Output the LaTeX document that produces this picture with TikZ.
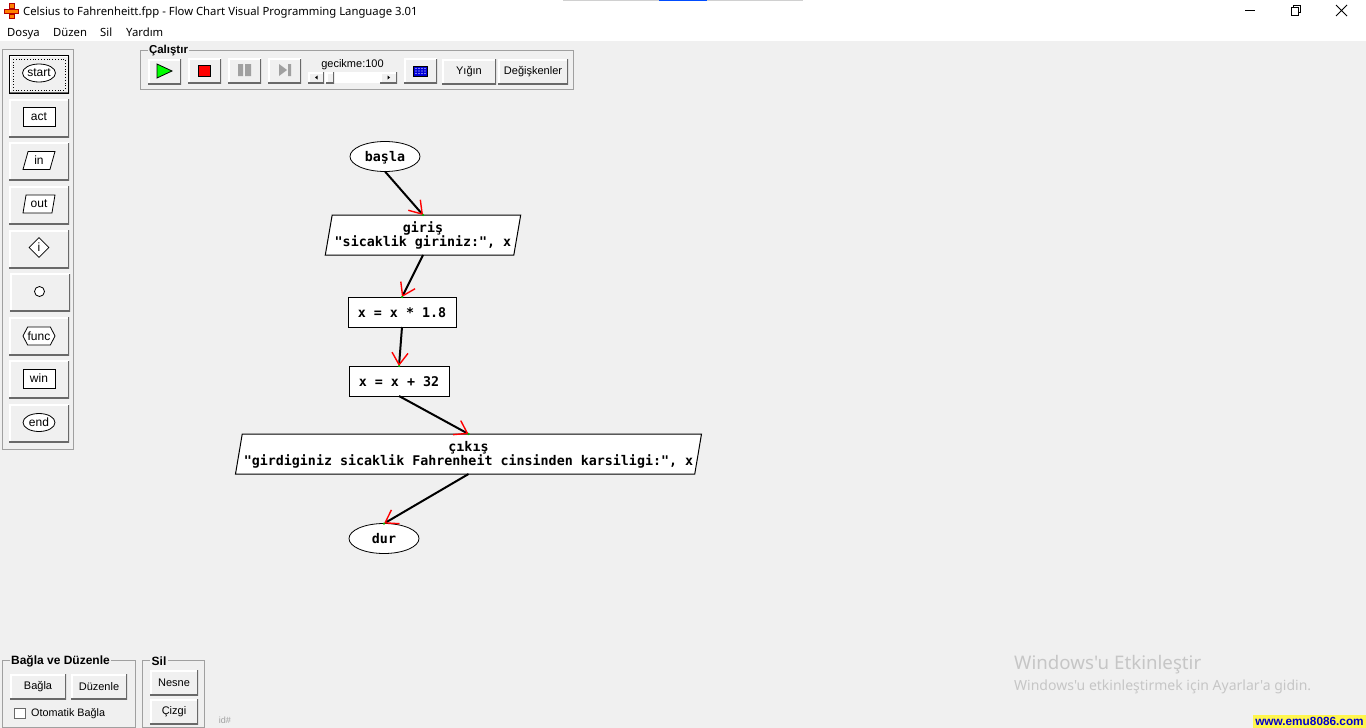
\documentclass[tikz,border=0pt]{standalone}
\usepackage{fontspec}
\setmainfont{Liberation Sans}
\newfontfamily\flowfont{DejaVu Sans Mono}
\newfontfamily\titlefont{Noto Sans}
\usetikzlibrary{arrows.meta,shapes.geometric,shapes.symbols,positioning}
\definecolor{panelgray}{HTML}{F0F0F0}
\definecolor{boxline}{HTML}{A0A0A0}
\definecolor{btnshade}{HTML}{696969}
\definecolor{marktext}{HTML}{C6C6C6}
\newcommand{\flowtop}{\rule{0pt}{12pt}}
\newcommand{\flowbot}{\rule[-3pt]{0pt}{3pt}}
\tikzset{
  uibtn/.style={rectangle,fill=panelgray,inner sep=0pt,outer sep=0pt,font=\fontsize{11}{14}\selectfont,
    path picture={
      \draw[white,line width=3pt] (path picture bounding box.south west) -- (path picture bounding box.north west) -- (path picture bounding box.north east);
      \draw[btnshade,line width=3pt] (path picture bounding box.south west) -- (path picture bounding box.south east) -- (path picture bounding box.north east);
    }},
  toolbtn/.style={uibtn,minimum width=60pt,minimum height=38pt},
  runbtn/.style={uibtn,minimum width=33pt,minimum height=25pt},
  icon/.style={draw,fill=white,inner sep=0pt,line width=.8pt,font=\fontsize{12}{14}\selectfont},
  iconpara/.style={icon,trapezium,trapezium left angle=76,trapezium right angle=104,trapezium stretches=true,minimum width=32pt,minimum height=18pt},
  menutext/.style={anchor=west,inner sep=0pt,text height=9pt,text depth=3pt,font=\titlefont\fontsize{11.3}{14}\selectfont},
  groupline/.style={draw=boxline,line width=1pt},
  grouplabel/.style={fill=panelgray,inner sep=1.5pt,font=\fontsize{12}{14}\bfseries\selectfont},
  flowtext/.style={font=\flowfont\fontsize{13.33}{14}\bfseries\selectfont,align=center,inner sep=0pt,outer sep=0pt,line width=1pt},
  flowoval/.style={flowtext,ellipse,draw,line width=.8pt,fill=white,text height=12pt,text depth=2pt,minimum width=70pt,minimum height=30pt},
  flowact/.style={flowtext,rectangle,draw,fill=white,text height=12pt,text depth=2pt,minimum height=30pt},
  flowpara/.style={flowtext,trapezium,draw,fill=white,trapezium left angle=77,trapezium right angle=103,trapezium stretches=true,minimum height=40pt},
  conn/.style={line width=2pt,-{Straight Barb[color=red,length=12pt,width=16pt,line width=1.4pt]}},
  tipdot/.style={circle,fill=green!70!black,inner sep=0pt,minimum size=2.5pt},
  grayicon/.style={fill=boxline,draw=none}
}
\begin{document}
\begin{tikzpicture}[x=1pt,y=-1pt]
    \useasboundingbox (0,0) rectangle (1366,728);
    \fill[panelgray] (0,0) rectangle (1366,728);
    \fill[white] (0,0) rectangle (1366,41);
    % top edge strip
    \fill[boxline!50] (563,0) rectangle (659,1);
    \fill[blue!70!cyan] (659,0) rectangle (707,1);
    \fill[boxline!50] (707,0) rectangle (803,1);
    % title bar
    \fill[orange] (9,3) rectangle (14,8);
    \fill[orange] (4,9) rectangle (18,13);
    \fill[orange] (9,14) rectangle (14,18);
    \draw[red!70!black,line width=.8pt] (9,3) rectangle (14,8) (4,9) rectangle (18,13) (9,14) rectangle (14,18);
    \node[menutext] (titletext) at (23,12) {Celsius to Fahrenheitt.fpp - Flow Chart Visual Programming Language 3.01};
    \draw[line width=1pt] (1245,10) -- (1255,10);
    \draw[line width=1pt] (1291,7) rectangle (1298,15);
    \draw[line width=1pt] (1293,7) -- (1293,5) -- (1300,5) -- (1300,12) -- (1298,12);
    \draw[line width=1pt] (1336,5) -- (1347,16) (1347,5) -- (1336,16);
    % menu
    \node[menutext] (menu_dosya) at (7,33) {Dosya};
    \node[menutext] (menu_duzen) at (53,33) {Düzen};
    \node[menutext] (menu_sil) at (100,33) {Sil};
    \node[menutext] (menu_yardim) at (126,33) {Yardım};
    % left tool panel
    \draw[groupline] (2.5,49.5) rectangle (73.5,449.5);
    \node[toolbtn] (b_start) at (39,74.5) {};
    \draw[line width=1pt] (9.5,55.5) rectangle (68.5,93.5);
    \draw[dotted,line width=.8pt] (13,59) rectangle (65,90);
    \node[icon,ellipse,minimum width=32pt,minimum height=18pt] (i_start) at (39,73) {start};
    \node[toolbtn] (b_act) at (39,118) {};
    \node[icon,rectangle,minimum width=32pt,minimum height=19pt] (i_act) at (39,117) {act};
    \node[toolbtn] (b_in) at (39,161.5) {};
    \node[iconpara] (i_in) at (39,160.5) {in};
    \node[toolbtn] (b_out) at (39,205) {};
    \node[iconpara] (i_out) at (39,204) {out};
    \node[toolbtn] (b_dec) at (39,249) {};
    \node[icon,diamond,minimum size=20pt] (i_dec) at (39,247.5) {i};
    \node[toolbtn] (b_con) at (40,292.5) {};
    \node[icon,circle,minimum size=10pt] (i_con) at (39.5,291.5) {};
    \node[toolbtn] (b_func) at (39,336) {};
    \node[icon,signal,signal to=east and west,signal pointer angle=125,minimum width=32pt,minimum height=18pt] (i_func) at (39,336) {func};
    \node[toolbtn] (b_win) at (39,379.5) {};
    \node[icon,rectangle,minimum width=32pt,minimum height=19pt] (i_win) at (39,378.5) {win};
    \node[toolbtn] (b_end) at (39,423.5) {};
    \node[icon,ellipse,minimum width=32pt,minimum height=18pt] (i_end) at (39,422.5) {end};
    % run bar
    \draw[groupline] (140.5,50.5) rectangle (573.5,89.5);
    \node[grouplabel,font=\fontsize{11.5}{14}\bfseries\selectfont] (l_run) at (168.5,51) {Çalıştır};
    \node[runbtn] (b_play) at (164.5,71.5) {};
    \draw[fill=green,line width=.8pt] (157,64) -- (172,71) -- (157,78) -- cycle;
    \node[runbtn] (b_stop) at (204.5,71) {};
    \draw[fill=red,line width=.8pt] (198,65) rectangle (210.5,76);
    \node[runbtn] (b_pause) at (244.5,71) {};
    \fill[grayicon] (238,64) rectangle (243,76) (245,64) rectangle (251,76);
    \node[runbtn] (b_step) at (284.5,71) {};
    \fill[grayicon] (279,64) -- (287,70) -- (279,76) -- cycle (288,64) rectangle (291,76);
    \node[inner sep=0pt,font=\fontsize{11}{14}\selectfont] (l_delay) at (352.5,64.5) {gecikme:100};
    \fill[white] (308,72) rectangle (397,83);
    \node[uibtn,minimum width=16pt,minimum height=11pt] (b_left) at (316,77.5) {};
    \fill (317.5,75.5) -- (317.5,79.5) -- (315,77.5) -- cycle;
    \node[uibtn,minimum width=8pt,minimum height=11pt] (b_thumb) at (330,77.5) {};
    \node[uibtn,minimum width=17pt,minimum height=11pt] (b_right) at (388.5,77.5) {};
    \fill (387.5,75.5) -- (387.5,79.5) -- (390,77.5) -- cycle;
    \node[runbtn] (b_screen) at (420.5,71) {};
    \draw[fill=blue!85!black,line width=.8pt] (413.5,66) rectangle (427,76);
    \foreach \px in {416,419,...,425} \foreach \py in {68.5,71,73.5} \fill[white] (\px,\py) circle (.6);
    \node[uibtn,minimum width=54pt,minimum height=25pt] (b_stack) at (469,71.5) {Yığın};
    \node[uibtn,minimum width=70pt,minimum height=25pt] (b_vars) at (533,71.5) {Değişkenler};
    % flow chart
    \node[flowoval] (n_start) at (385,156.5) {başla};
    \node[flowpara,minimum width=196pt] (n_in) at (423,235) {\flowtop giriş\\"sicaklik giriniz:", x\flowbot};
    \node[flowact,minimum width=108pt] (n_mul) at (402,312) {x = x * 1.8};
    \node[flowact,minimum width=100pt] (n_add) at (399,381) {x = x + 32};
    \node[flowpara,minimum width=468pt] (n_out) at (468.5,454) {\flowtop çıkış\\"girdiginiz sicaklik Fahrenheit cinsinden karsiligi:", x\flowbot};
    \node[flowoval] (n_end) at (384,538.5) {dur};
    \draw[conn] (n_start.south) -- (n_in.north) node[tipdot,pos=1] (t_a) {};
    \draw[conn] (n_in.south) -- (n_mul.north) node[tipdot,pos=1] (t_b) {};
    \draw[conn] (n_mul.south) -- (n_add.north) node[tipdot,pos=1] (t_c) {};
    \draw[conn] (n_add.south) -- (n_out.north) node[tipdot,pos=1] (t_d) {};
    \draw[conn] (n_out.south) -- (n_end.north) node[tipdot,pos=1] (t_e) {};
    % bottom panels
    \draw[groupline] (2.5,660.5) rectangle (135.5,727);
    \node[grouplabel] (l_link) at (60.5,661) {Bağla ve Düzenle};
    \node[uibtn,minimum width=56pt,minimum height=25pt] (b_link) at (38,686.5) {Bağla};
    \node[uibtn,minimum width=56pt,minimum height=25pt] (b_edit) at (99,686.5) {Düzenle};
    \draw[fill=white,draw=btnshade,line width=1pt] (14,708) rectangle (25,718.5);
    \node[anchor=west,inner sep=0pt,font=\fontsize{10.8}{14}\selectfont] (l_auto) at (31,713.5) {Otomatik Bağla};
    \draw[groupline] (142.5,660.5) rectangle (204.5,727);
    \node[grouplabel] (l_del) at (159,661) {Sil};
    \node[uibtn,minimum width=48pt,minimum height=25pt] (b_obj) at (174,682.5) {Nesne};
    \node[uibtn,minimum width=48pt,minimum height=25pt] (b_line) at (174,711.5) {Çizgi};
    \node[inner sep=0pt,text=boxline,font=\fontsize{9}{10}\selectfont] (l_id) at (225,720) {id\#};
    % corner texts
    \node[anchor=west,inner sep=0pt,text height=14pt,text depth=5pt,text=marktext,font=\titlefont\fontsize{18.7}{22}\selectfont] (mark_a) at (1014,664.5) {Windows'u Etkinleştir};
    \node[anchor=west,inner sep=0pt,text height=11pt,text depth=4pt,text=marktext,font=\titlefont\fontsize{14}{16}\selectfont] (mark_b) at (1014,687) {Windows'u etkinleştirmek için Ayarlar'a gidin.};
    \node[fill=yellow!70!white,text=blue!80!black,inner sep=0pt,minimum width=113pt,minimum height=13pt,font=\fontsize{11.8}{13}\bfseries\selectfont] (mark_c) at (1309.5,721.5) {www.emu8086.com};
\end{tikzpicture}
\end{document}
